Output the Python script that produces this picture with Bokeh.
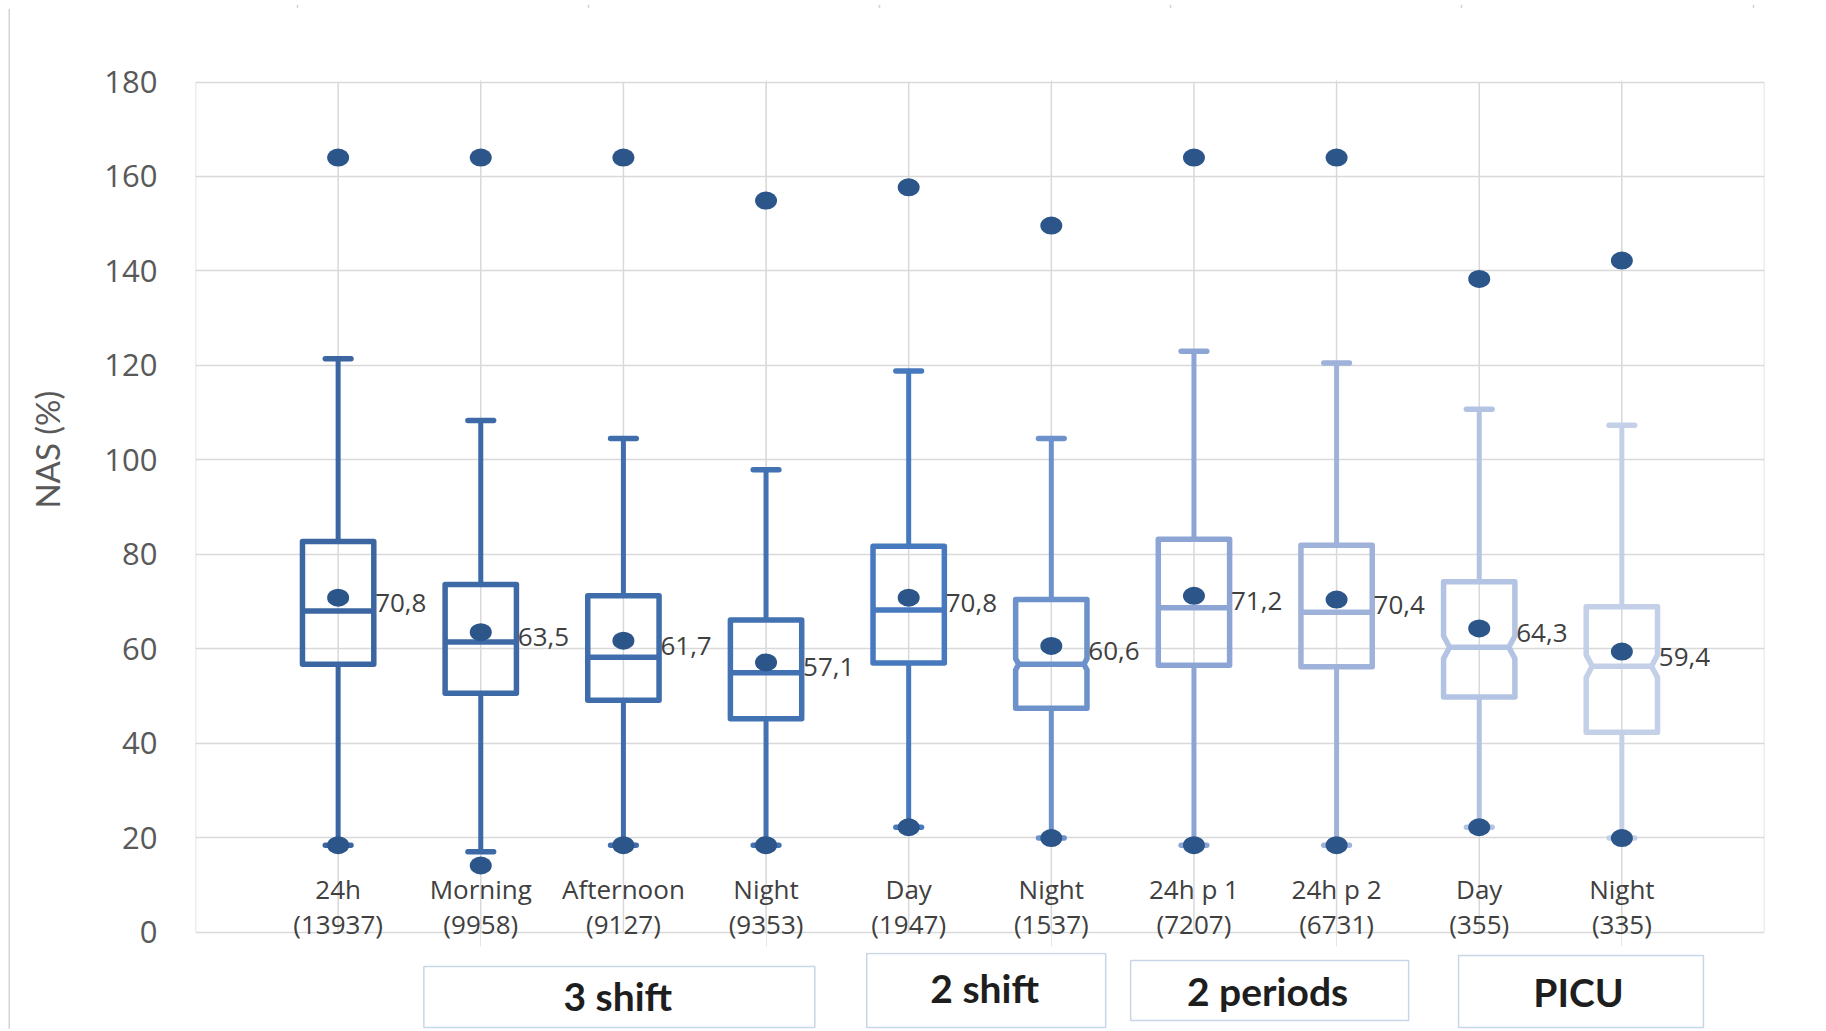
import numpy as np
from bokeh.plotting import figure
from bokeh.models import Range1d, FixedTicker
from bokeh.layouts import column, row
from bokeh.embed import file_html
from bokeh.resources import INLINE
from bokeh.core.properties import value

# ---------------- data ----------------
categories = ["24h", "Morning", "Afternoon", "Night", "Day", "Night",
              "24h p 1", "24h p 2", "Day", "Night"]
counts = ["(13937)", "(9958)", "(9127)", "(9353)", "(1947)", "(1537)",
          "(7207)", "(6731)", "(355)", "(335)"]
upper_whisker = [121.4, 108.3, 104.5, 97.9, 118.8, 104.5, 123.0, 120.5, 110.7, 107.3]
q3 = [82.7, 73.6, 71.2, 66.1, 81.7, 70.4, 83.2, 81.9, 74.2, 68.9]
median = [68.0, 61.4, 58.2, 54.9, 68.2, 56.7, 68.7, 67.7, 60.3, 56.3]
q1 = [56.7, 50.6, 49.1, 45.2, 57.0, 47.4, 56.5, 56.2, 49.8, 42.3]
lower_whisker = [18.4, 17.0, 18.4, 18.4, 22.2, 19.9, 18.4, 18.4, 22.2, 19.9]
mean = [70.8, 63.5, 61.7, 57.1, 70.8, 60.6, 71.2, 70.4, 64.3, 59.4]
low_point = [18.4, 14.1, 18.4, 18.4, 22.2, 19.9, 18.4, 18.4, 22.2, 19.9]
high_point = [164.0, 164.0, 164.0, 154.9, 157.7, 149.6, 164.0, 164.0, 138.3, 142.2]
groups = ["3 shift", "2 shift", "2 periods", "PICU"]
y_ticks = [0, 20, 40, 60, 80, 100, 120, 140, 160, 180]
y_title = "NAS (%)"
y_min, y_max = 0, 180
x_min, x_max = 0, 11

# ---------------- styles / layout ----------------
box_colors = ["#3B66A1", "#3D69A6", "#406DAC", "#4372B3", "#4779BE", "#6D91CA",
              "#8CA5D4", "#9FB2DA", "#B3C3E3", "#C4CFE8"]
notch_depth_px = [0, 0, 0, 0, 0, 3, 0, 0, 6, 6]
notch_half = [0, 0, 0, 0, 0, 1.2, 0, 0, 2.4, 2.4]
dot_color = "#2C5589"
grid_color = "#d9d9d9"
frame_line = "#d4d4d4"
text_color = "#404040"
tick_color = "#595959"

TOTAL_W, TOTAL_H = 1824, 1029
TOP_H = 8
LEFT_W = 10
YL_W = 60
MAIN_W = TOTAL_W - LEFT_W - YL_W
MAIN_H = 944
GROUP_H = TOTAL_H - TOP_H - MAIN_H
BL, BR, BT, BB = 125, 60, 71, 6
ppu = (MAIN_W - BL - BR) / 11.0
hw = 0.25
cap_hw = 0.09


def bare(w, h, xr, yr):
    f = figure(width=w, height=h, output_backend="svg", toolbar_location=None,
               x_range=xr, y_range=yr, x_axis_location=None, y_axis_location=None,
               min_border_left=0, min_border_right=0, min_border_top=0, min_border_bottom=0)
    f.outline_line_color = None
    f.grid.visible = False
    f.background_fill_color = "white"
    f.border_fill_color = "white"
    return f


n = len(categories)
xpos = list(range(1, n + 1))

# ---------------- main plot ----------------
# frame extends a little below 0 so the two-line category labels are not clipped
p = figure(width=MAIN_W, height=MAIN_H, output_backend="svg", toolbar_location=None,
           x_range=Range1d(x_min, x_max), y_range=Range1d(-3.05, 180.53),
           x_axis_location=None, y_axis_location="left",
           min_border_left=BL, min_border_right=BR, min_border_top=BT,
           min_border_bottom=BB)
p.background_fill_color = "white"
p.border_fill_color = "white"
p.outline_line_color = None

p.yaxis.ticker = FixedTicker(ticks=y_ticks)
p.yaxis.axis_line_color = None
p.yaxis.major_tick_line_color = None
p.yaxis.minor_tick_line_color = None
p.yaxis.major_tick_in = 0
p.yaxis.major_tick_out = 0
p.yaxis.major_label_standoff = 38
p.yaxis.major_label_text_font = "Open Sans"
p.yaxis.major_label_text_font_size = "31px"
p.yaxis.major_label_text_color = tick_color
p.ygrid.ticker = FixedTicker(ticks=y_ticks)
p.ygrid.grid_line_color = grid_color
p.ygrid.grid_line_width = 1.5

# vertical grid lines and plot-area sides, spanning 0..180 only
vx = [x_min] + xpos + [x_max]
p.segment(x0=vx, y0=[y_min] * len(vx), x1=vx, y1=[y_max] * len(vx),
          line_color=grid_color, line_width=1.5)

# whiskers and caps
p.segment(x0=xpos, y0=q3, x1=xpos, y1=upper_whisker, line_color=box_colors, line_width=5)
p.segment(x0=xpos, y0=q1, x1=xpos, y1=lower_whisker, line_color=box_colors, line_width=5)
xl = [x - cap_hw for x in xpos]
xr = [x + cap_hw for x in xpos]
p.segment(x0=xl, y0=upper_whisker, x1=xr, y1=upper_whisker, line_color=box_colors,
          line_width=5.5, line_cap="round")
p.segment(x0=xl, y0=lower_whisker, x1=xr, y1=lower_whisker, line_color=box_colors,
          line_width=5.5, line_cap="round")

# boxes (optionally notched)
bxs, bys, mx0, mx1 = [], [], [], []
for i in range(n):
    x = xpos[i]
    nd = notch_depth_px[i] / ppu
    nh = notch_half[i]
    m = median[i]
    if nd > 0:
        xs = [x - hw, x - hw, x - hw + nd, x - hw, x - hw, x + hw, x + hw, x + hw - nd, x + hw, x + hw]
        ys = [q1[i], m - nh, m, m + nh, q3[i], q3[i], m + nh, m, m - nh, q1[i]]
    else:
        xs = [x - hw, x - hw, x + hw, x + hw]
        ys = [q1[i], q3[i], q3[i], q1[i]]
    bxs.append(xs)
    bys.append(ys)
    mx0.append(x - hw + nd)
    mx1.append(x + hw - nd)
p.patches(xs=bxs, ys=bys, fill_color=None, line_color=box_colors, line_width=5.5,
          line_join="round")
p.segment(x0=mx0, y0=median, x1=mx1, y1=median, line_color=box_colors, line_width=5.5)

# dots
dot_kw = dict(width=22, height=18, width_units="screen", height_units="screen",
              fill_color=dot_color, line_color=None)
p.ellipse(x=xpos, y=mean, **dot_kw)
p.ellipse(x=xpos, y=low_point, **dot_kw)
p.ellipse(x=xpos, y=high_point, **dot_kw)

# mean labels
mean_txt = [f"{m:.1f}".replace(".", ",") for m in mean]
p.text(x=xpos, y=mean, text=mean_txt, x_offset=37, y_offset=5,
       text_font=value("Open Sans"), text_font_size="26px", text_color=text_color,
       text_align="left", text_baseline="middle")

# category labels (two lines, inside the plot area)
p.text(x=xpos, y=[9.1] * n, text=categories, text_font=value("Open Sans"),
       text_font_size="26px", text_color=text_color, text_align="center",
       text_baseline="middle")
p.text(x=xpos, y=[1.7] * n, text=counts, text_font=value("Open Sans"),
       text_font_size="26px", text_color=text_color, text_align="center",
       text_baseline="middle")

# ---------------- y title strip ----------------
pl = bare(YL_W, MAIN_H, Range1d(0, YL_W), Range1d(0, MAIN_H))
pl.text(x=[36], y=[MAIN_H - 403], text=[y_title], angle=np.pi / 2,
        text_font=value("Lato"), text_font_size="33px", text_color=tick_color,
        text_align="center", text_baseline="middle")

# ---------------- group labels ----------------
g_left = [1.601, 4.706, 6.556, 8.855]
g_right = [4.342, 6.381, 8.505, 10.572]
g_top = [63, 76, 69, 74]
g_bottom = [2, 2, 9, 2]
g_tx = [2.961, 5.533, 7.516, 9.696]
g_ty = [34, 42, 39, 38]

gx0 = -(BL + YL_W) / ppu
gx1 = 11 + BR / ppu
p2 = bare(TOTAL_W - LEFT_W, GROUP_H, Range1d(gx0, gx1), Range1d(0, GROUP_H))
p2.quad(left=g_left, right=g_right, top=g_top, bottom=g_bottom, fill_color=None,
        line_color="#c9d6e8", line_width=1.5)
p2.text(x=g_tx, y=g_ty, text=groups, text_font=value("Lato"), text_font_style="bold",
        text_font_size="39px", text_color="#1e1e1e", text_align="center",
        text_baseline="middle")

# ---------------- outer frame strips ----------------
top = bare(TOTAL_W, TOP_H, Range1d(0, TOTAL_W), Range1d(0, TOP_H))
top.quad(left=[8], right=[TOTAL_W], bottom=[1], top=[3], fill_color=frame_line, line_color=None)
top.quad(left=[8], right=[10], bottom=[0], top=[3], fill_color=frame_line, line_color=None)
tick_x = [297, 588, 879, 1170, 1461, 1753]
top.segment(x0=tick_x, y0=[2] * 6, x1=tick_x, y1=[TOP_H] * 6, line_color=frame_line,
            line_width=1.5)

left = bare(LEFT_W, TOTAL_H - TOP_H, Range1d(0, LEFT_W), Range1d(0, TOTAL_H - TOP_H))
left.quad(left=[8], right=[10], bottom=[0], top=[TOTAL_H - TOP_H], fill_color=frame_line,
          line_color=None)

layout = column(top, row(left, column(row(pl, p), p2)))

open("out.html", "w").write(file_html(layout, INLINE))
